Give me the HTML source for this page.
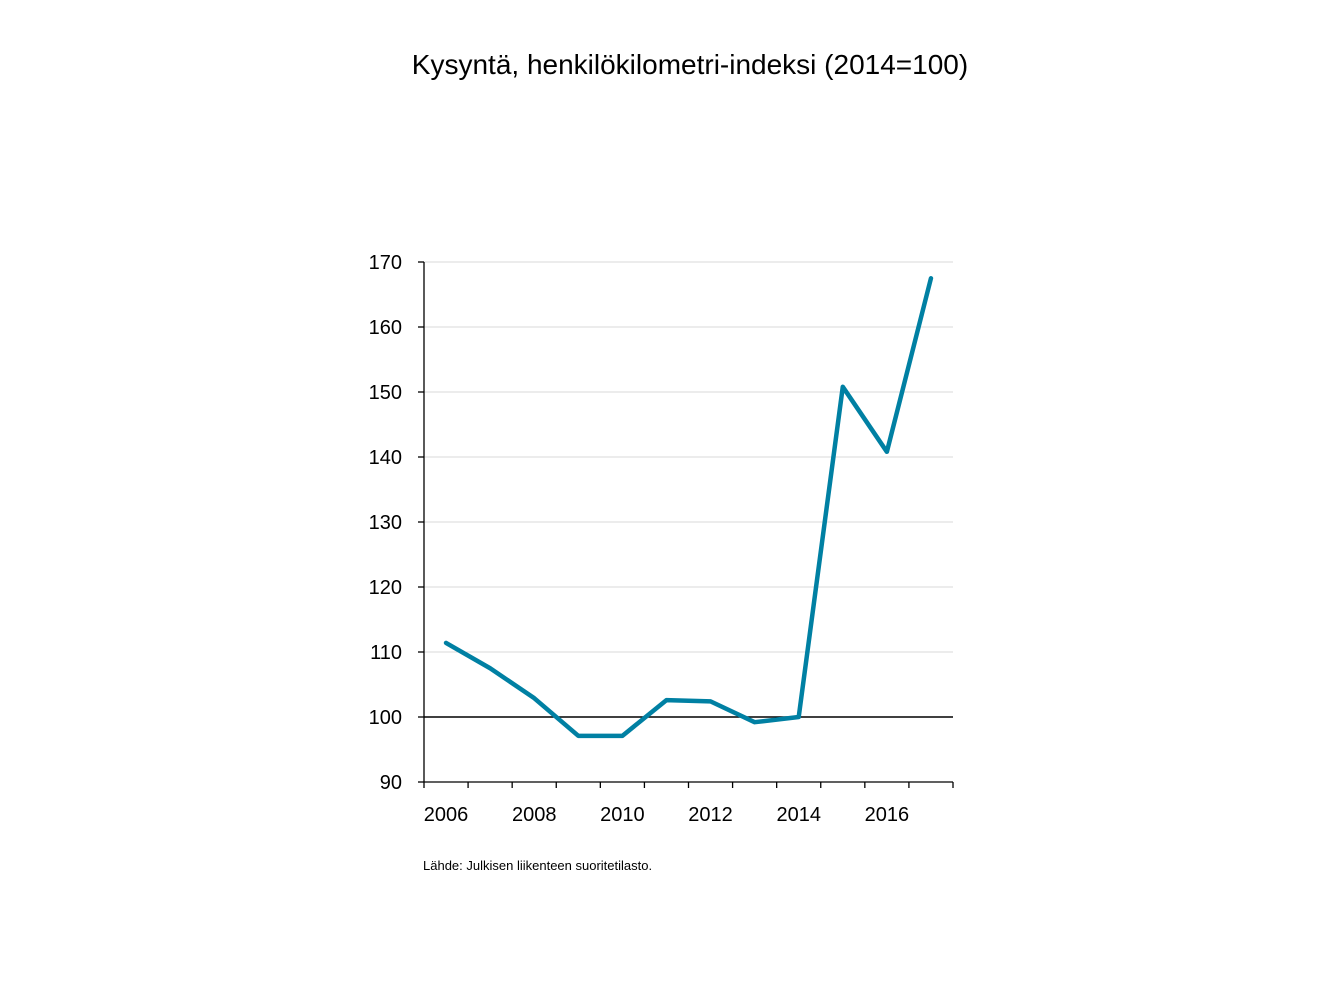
<!DOCTYPE html>
<html><head><meta charset="utf-8"><style>
body{margin:0;background:#fff;}
svg{display:block;font-family:"Liberation Sans",Calibri,sans-serif;}
</style></head><body>
<svg width="1344" height="1008" viewBox="0 0 1344 1008" id="chart">
<text x="690" y="74" text-anchor="middle" font-size="28" fill="#000">Kysyntä, henkilökilometri-indeksi  (2014=100)</text>
<g id="grid"></g>
<g id="axes"></g>
<g id="series"></g>
<text x="423" y="870" font-size="13" fill="#000">Lähde: Julkisen liikenteen suoritetilasto.</text>
</svg>
<script>
const years = [2006,2007,2008,2009,2010,2011,2012,2013,2014,2015,2016,2017];
const values = [111.4,107.5,102.9,97.1,97.1,102.6,102.4,99.2,100,150.8,140.8,167.5];
const yTicks = [90,100,110,120,130,140,150,160,170];
const xLabels = ["2006","2008","2010","2012","2014","2016"];
const NS="http://www.w3.org/2000/svg";
const X0=424,X1=953,Y0=782,Y1=262,YMIN=90,YMAX=170;
const bw=(X1-X0)/years.length;
function xs(i){return X0+bw*(i+0.5);}
function ys(v){return Y0-(v-YMIN)/(YMAX-YMIN)*(Y0-Y1);}
function mk(t,a,p){const e=document.createElementNS(NS,t);for(const k in a)e.setAttribute(k,a[k]);p.appendChild(e);return e;}
const grid=document.getElementById('grid'),axes=document.getElementById('axes'),ser=document.getElementById('series');
yTicks.forEach(v=>{
  if(v!==YMIN&&v!==100){const g=mk('line',{x1:X0,x2:X1,y1:ys(v),y2:ys(v),stroke:'#d9d9d9','stroke-width':1},grid);
  
  }
  const t=mk('line',{x1:X0-6,x2:X0,y1:ys(v),y2:ys(v),stroke:'#000','stroke-width':1.3},axes);
  
  
  const l=mk('text',{x:X0-22,y:ys(v)+7,'text-anchor':'end','font-size':20,fill:'#000'},axes);
  l.textContent=v;
  
  
});
const ya=mk('line',{x1:X0,x2:X0,y1:Y1,y2:Y0,stroke:'#000','stroke-width':1.3},axes);


const xa=mk('line',{x1:X0,x2:X1,y1:Y0,y2:Y0,stroke:'#000','stroke-width':1.3},axes);


const base=mk('line',{x1:X0,x2:X1,y1:ys(100),y2:ys(100),stroke:'#000','stroke-width':1.6},axes);


for(let i=0;i<=years.length;i++){
  const t=mk('line',{x1:X0+bw*i,x2:X0+bw*i,y1:Y0,y2:Y0+6,stroke:'#000','stroke-width':1.3},axes);
  
  
}
xLabels.forEach(s=>{
  const i=years.indexOf(+s);
  const l=mk('text',{x:xs(i),y:Y0+39,'text-anchor':'middle','font-size':20,fill:'#000'},axes);
  l.textContent=s;
  
  
});
const pl=mk('polyline',{points:values.map((v,i)=>xs(i)+','+ys(v)).join(' '),fill:'none',stroke:'#0080a3','stroke-width':4.5,'stroke-linejoin':'round','stroke-linecap':'round'},ser);


</script>
</body></html>
